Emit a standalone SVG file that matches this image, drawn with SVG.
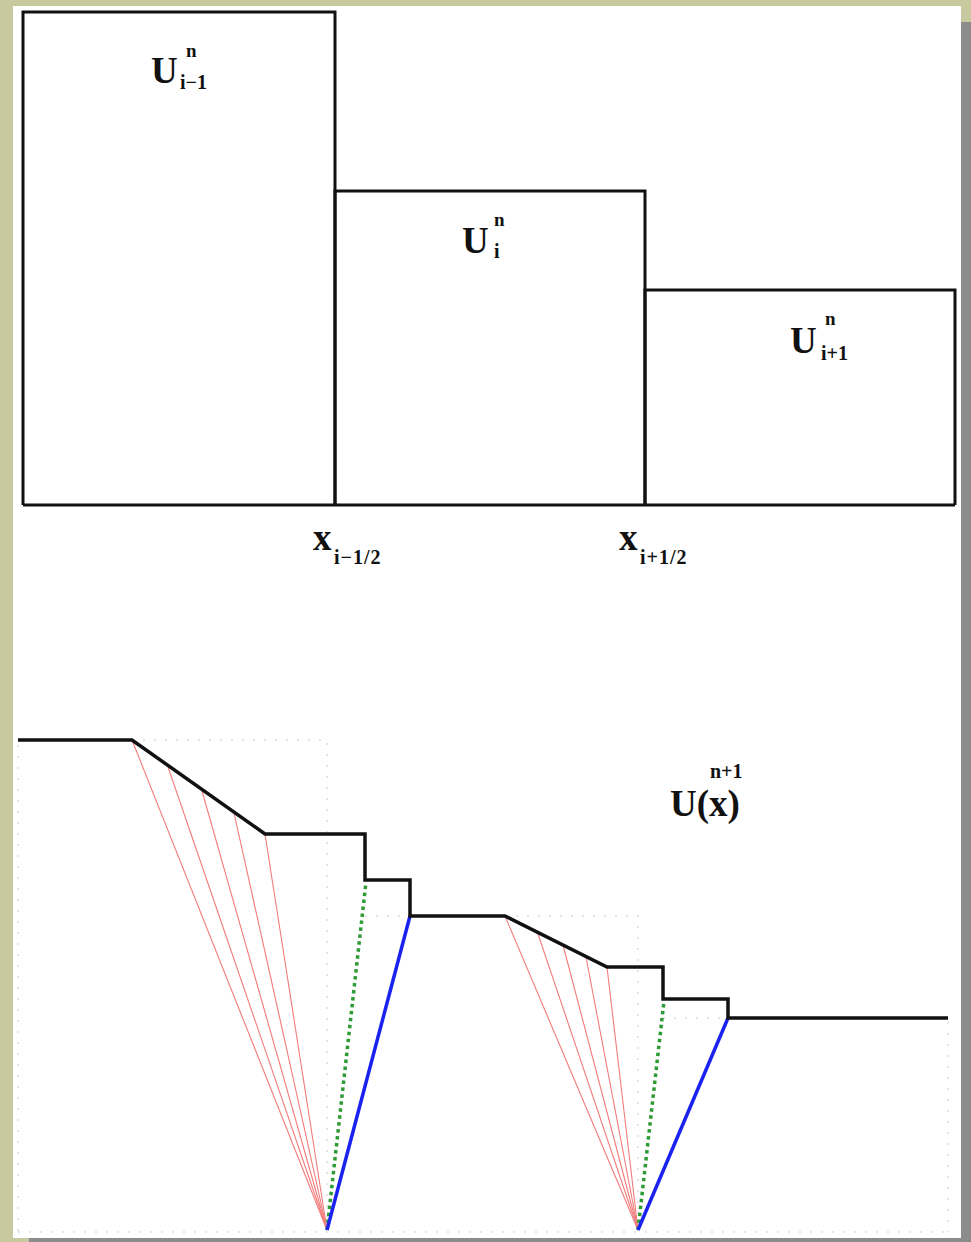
<svg xmlns="http://www.w3.org/2000/svg" width="971" height="1242" viewBox="0 0 971 1242">
<style>
.cell{fill:none;stroke:#111;stroke-width:3}
.lbl{font-family:"Liberation Serif","Times New Roman",serif;font-weight:bold;fill:#111}
.big{font-size:37px}
.sub{font-size:20px}
.sup{font-size:19px}
.prof{fill:none;stroke:#111;stroke-width:3.5;stroke-linejoin:miter}
.fan{stroke:#f27a7a;stroke-width:1.1;fill:none}
.green{stroke:#2e9a35;stroke-width:3.5;stroke-dasharray:3.5 3.5;fill:none}
.blue{stroke:#1a22f0;stroke-width:3.5;fill:none}
.grid{stroke:#dcdcdc;stroke-width:1.5;stroke-dasharray:2 9;fill:none}
</style>
<rect x="0" y="0" width="971" height="1242" fill="#c8c99e"/>
<rect x="961" y="22" width="10" height="1220" fill="#8c8c8c"/>
<rect x="29" y="1238" width="942" height="4" fill="#8c8c8c"/>
<rect x="13" y="6" width="948" height="1232" fill="#ffffff"/>

<g id="cell-im1">
<polyline class="cell" points="23,505 23,12 335,12 335,505"/>
<text class="lbl big" x="151" y="83">U</text>
<text class="lbl sup" x="186" y="57">n</text>
<text class="lbl sub" x="180" y="89">i−1</text>
</g>
<g id="cell-i">
<polyline class="cell" points="335,505 335,191 645,191 645,505"/>
<text class="lbl big" x="462" y="253">U</text>
<text class="lbl sup" x="494" y="226">n</text>
<text class="lbl sub" x="494" y="258">i</text>
</g>
<g id="cell-ip1">
<polyline class="cell" points="645,505 645,290 955,290 955,505"/>
<text class="lbl big" x="790" y="353">U</text>
<text class="lbl sup" x="825" y="325">n</text>
<text class="lbl sub" x="821" y="360">i+1</text>
</g>
<g id="baseline">
<line class="cell" x1="23" y1="505" x2="955" y2="505"/>
</g>
<g id="label-xim">
<text class="lbl big" x="313" y="550">x</text>
<text class="lbl sub" x="334" y="564" letter-spacing="1">i−1/2</text>
</g>
<g id="label-xip">
<text class="lbl big" x="619" y="550">x</text>
<text class="lbl sub" x="640" y="564" letter-spacing="1">i+1/2</text>
</g>
<g id="label-U">
<text class="lbl big" x="670" y="816">U(x)</text>
<text class="lbl sub" x="710" y="778" font-size="21">n+1</text>
</g>

<g id="grid">
<polyline class="grid" points="132,740 327,740 327,1232"/>
<polyline class="grid" points="365,916 410,916"/>
<polyline class="grid" points="505,916 638,916 638,1232"/>
<polyline class="grid" points="663,1018 728,1018"/>
<line class="grid" x1="18" y1="745" x2="18" y2="1232"/>
<line class="grid" x1="948" y1="1022" x2="948" y2="1232"/>
<line class="grid" x1="18" y1="1232" x2="948" y2="1232"/>
</g>

<g id="connectors">
<line class="fan" x1="327" y1="1230" x2="132" y2="740"/>
<line class="fan" x1="327" y1="1230" x2="168" y2="767"/>
<line class="fan" x1="327" y1="1230" x2="202" y2="791"/>
<line class="fan" x1="327" y1="1230" x2="234" y2="813"/>
<line class="fan" x1="327" y1="1230" x2="265" y2="834"/>
<line class="green" x1="327" y1="1230" x2="366" y2="882"/>
<line class="blue" x1="327" y1="1230" x2="410" y2="916"/>
<line class="fan" x1="638" y1="1230" x2="505" y2="916"/>
<line class="fan" x1="638" y1="1230" x2="537" y2="931"/>
<line class="fan" x1="638" y1="1230" x2="563" y2="945"/>
<line class="fan" x1="638" y1="1230" x2="586" y2="957"/>
<line class="fan" x1="638" y1="1230" x2="607" y2="967"/>
<line class="green" x1="638" y1="1230" x2="664" y2="1001"/>
<line class="blue" x1="638" y1="1230" x2="728" y2="1018"/>
</g>

<g id="profile">
<polyline class="prof" points="18,740 132,740 265,834 365,834 365,880 410,880 410,916 505,916 607,967 663,967 663,999 728,999 728,1018 948,1018"/>
</g>
</svg>
